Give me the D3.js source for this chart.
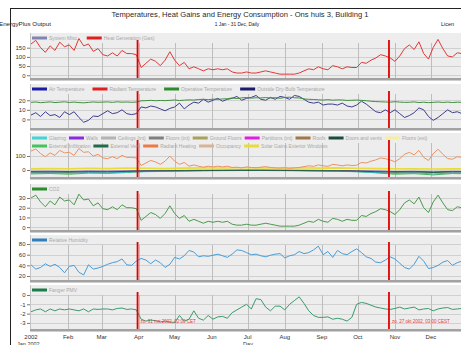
<!DOCTYPE html>
<html>
<head>
<meta charset="utf-8">
<script src="https://cdn.jsdelivr.net/npm/d3@7"></script>
<style>
body{margin:0;background:#fff;overflow:hidden}
svg{display:block;font-family:"Liberation Sans",Arial,sans-serif}
</style>
</head>
<body>
<div id="chart"></div>
<script>
// sample days (day of year 2002), every 4 days, and a coarser grid for the small gains
const days = d3.range(0, 365, 4)
const coarseDays = [0,16,32,48,64,80,96,112,128,144,160,176,192,208,224,240,256,272,288,304,320,336,352,364]
const monthNames = ["2002","Feb","Mar","Apr","May","Jun","Jul","Aug","Sep","Oct","Nov","Dec"]

// panel 1
const heatGas = [170,190,150,125,160,135,180,155,165,135, 200,160,170,130,145,112,105,122,105,135,
  118,118,112,42,65,88,76,52,82,128, 82,52,70,35,46,35,24,35,30,35, 30,35,18,12,12,18,12,12,18,24,
  18,12,6,6,6,6,12,24,35,30, 46,35,30,52,46,35,46,42,42,70, 65,82,94,112,105,94,76,105,145,165,
  140,182,118,88,152,195,145,105,100,122, 118,128]

// panel 2
const operativeT = [17.8,18.2,17.5,17.9,18.3,17.6,18.0,18.4,17.7,18.1, 17.6,17.3,17.8,18.2,17.9,18.1,18.3,17.8,18.4,18.0,
  18.2,17.9,18.1,19.4,19.6,19.9,19.5,19.8,19.6,19.9, 20.3,19.7,20.1,20.4,20.2,20.8,21.0,20.6,21.2,20.9,
  21.4,21.6,22.4,21.8,22.5,22.9,22.2,22.6,22.4,22.8, 22.3,22.7,22.1,22.9,23.2,22.6,22.4,21.4,21.0,20.8,
  20.5,20.2,20.6,20.1,20.4,20.3,19.8,20.0,20.2,19.9, 19.5,19.0,18.6,18.4,18.2,18.0,18.5,18.1,17.8,17.9,
  18.3,17.6,18.0,17.5,17.8,18.2,17.7,18.1,17.6,18.0, 17.8,18.1]
const outsideT = [4.5,7,3,8,4,5,2,8,5,8, 2,-3,-1,3.5,3,6,9,6,7,10, 6,5,6,13,12,14,13,11,9,11.5,
  13,17,11,15,18,17,21,18,20,22, 19,21,22,24,20,22,23,25,21,20, 23,21,24,23,21,25,24,21,18,17,
  18,15,16,16,15,17,14,13,15,19, 16,12,8,7,10,7,10,6,2,4, 7,12,10,3,-1,2,6,10,7,8, 6,5]

// panel 3
const radHeating = [135,150,117,95,122,104,140,122,126,104, 153,126,130,99,112,86,81,95,81,104,
  90,90,86,32,50,68,58,40,63,99, 63,40,54,27,36,27,20,27,22,27, 22,27,18,20,15,22,18,16,20,24,
  18,15,14,16,12,15,18,24,30,26, 36,30,26,40,36,30,36,32,34,54, 50,63,72,86,81,72,58,81,112,126,
  108,140,90,68,117,148,112,81,77,95, 90,99]
const solarGains = [8,10,9,12,10,14,12,10,13,15,14,16,15,14,16,13,15,12,10,9,8,7,8,8]
const glazing = [-22,-20,-24,-18,-20,-15,-12,-10,-8,-6,-5,-4,-4,-5,-6,-8,-10,-12,-18,-25,-20,-28,-22,-24]
const extInfiltration = [-28,-25,-30,-22,-24,-18,-10,-8,-6,-4,-3,-2,-2,-3,-4,-6,-8,-12,-20,-30,-26,-35,-25,-28]
const doorsVents = [-15,-14,-16,-12,-13,-10,-7,-6,-5,-4,-3,-3,-3,-3,-4,-5,-6,-8,-12,-16,-14,-18,-14,-15]
const walls = [-10,-9,-11,-8,-9,-7,-5,-4,-3,-2,-2,-1,-1,-2,-2,-3,-4,-6,-8,-11,-10,-13,-10,-11]

// panel 4
const co2 = [30,33,26,21,27,23,31,27,28,23, 34,28,29,22,25,19,18,21,18,23, 20,20,19,7,11,15,13,9,14,22,
  14,9,12,6,8,6,4,6,5,6, 5,6,3,2,2,3,2,2,3,4, 3,2,1,1,1,1,2,4,6,5, 8,6,5,9,8,6,8,7,7,12,
  11,14,16,19,18,16,13,18,25,28, 24,31,20,15,26,33,25,18,17,21, 20,22]

// panel 5
const relHum = [41,33,36,43,38,42,36,26,38,40, 27,22,41,33,35,38,42,45,47,52, 41,40,48,53,50,43,50,45,36,42,
  55,52,58,68,65,56,58,57,59,61, 58,55,61,69,68,64,60,61,58,56, 59,61,62,54,58,60,66,62,64,69,
  76,60,66,55,68,62,60,66,71,64, 56,53,46,45,50,56,52,44,36,33, 42,57,48,34,36,40,46,49,40,45, 48,44]

// panel 6
const pmv = [-1.8,-1.6,-1.5,-1.8,-1.5,-1.7,-1.5,-1.6,-1.5,-1.6, -1.7,-1.5,-1.8,-1.5,-1.55,-1.5,-1.5,-1.6,-1.45,-1.4,
  -1.55,-1.5,-1.6,-2.6,-2.8,-2.7,-2.75,-2.9,-2.8,-2.9, -2.95,-2.2,-2.8,-2.6,-1.7,-2.5,-2.7,-2.2,-2.6,-2.35,
  -2.3,-2.5,-1.9,-1.6,-1.3,-1.0,-1.5,-0.4,-0.5,-1.3, -1.7,-1.2,-1.2,-1.6,-1.0,-0.6,-0.2,-0.9,-1.7,-2.2,
  -2.4,-2.4,-2.35,-2.6,-2.5,-2.6,-2.8,-2.4,-1.0,-0.8, -0.9,-1.1,-1.3,-1.4,-1.5,-1.55,-1.45,-1.3,-1.5,-1.4,
  -1.3,-1.6,-1.5,-1.45,-1.7,-1.5,-1.4,-1.35,-1.55,-1.5, -1.45,-1.5]

const dstDays = [89, 299]
const dstLabels = ["zo. 31 mrt 2002, 02:00 CET", "zo. 27 okt 2002, 03:00 CEST"]

// panels: layout + what goes in them
const panels = [
  {top:33, bottom:78, domain:[-15,230], ticks:[0,50,100,150], gap:8,
   legend:[[["System Misc.","#8383b3"],["Heat Generation (Gas)","#e02020"]]],
   series:[[days,heatGas,"#e03838",1]]},
  {top:84, bottom:128, domain:[-9,37], ticks:[0,10,20], gap:8,
   legend:[[["Air Temperature","#1c1ca8"],["Radiant Temperature","#e02020"],["Operative Temperature","#2e8b2e"],["Outside Dry-Bulb Temperature","#1c1c6e"]]],
   series:[[days,outsideT,"#3d3d8f",1],[days,operativeT,"#3f8f3f",1]]},
  {top:133, bottom:177, domain:[-50,264], ticks:[0,100], gap:3,
   legend:[[["Glazing","#44d4d4"],["Walls","#8a2be2"],["Ceilings (int)","#b4b4b4"],["Floors (int)","#808080"],["Ground Floors","#a8a25c"],["Partitions (int)","#e020e0"],["Roofs","#a0784a"],["Doors and vents","#1b4d3e"],["Floors (ext)","#f6efa0"]],
           [["External Infiltration","#44c45a"],["External Vent","#226a48"],["Radiant Heating","#ec7a46"],["Occupancy","#d8b496"],["Solar Gains Exterior Windows","#e8dc3c"]]],
   series:[[coarseDays,walls,"#6a3aa8",1],[coarseDays,extInfiltration,"#44b45a",1],[coarseDays,glazing,"#3cb4c8",1],
           [coarseDays,doorsVents,"#2a5a48",1],[coarseDays,solarGains,"#e8dc3c",1.6],[days,radHeating,"#ee915e",1]]},
  {top:184, bottom:230, domain:[-3,44.5], ticks:[0,10,20,30], gap:8,
   legend:[[["CO2","#2e8b2e"]]],
   series:[[days,co2,"#4a9a4a",1]]},
  {top:235, bottom:280, domain:[12.5,97], ticks:[20,40,60,80], gap:8,
   legend:[[["Relative Humidity","#2f7fbf"]]],
   series:[[days,relHum,"#4a9cd4",1]]},
  {top:285, bottom:329, domain:[-3.65,1.07], ticks:[-3,-2,-1,0], gap:8,
   legend:[[["Fanger PMV","#1f7a4a"]]],
   series:[[days,pmv,"#3a9a6a",1]]}
]

const W = 461, H = 345
const left = 30, right = 470
const start = new Date(2002,0,1)
const dayDate = d => d3.timeDay.offset(start, d)
const x = d3.scaleTime().domain([start, new Date(2003,0,1)]).range([31, 468])
const months = d3.timeMonth.range(start, new Date(2003,0,1))

const svg = d3.select("#chart").append("svg").attr("width", W).attr("height", H)

// frame and titles
svg.append("line").attr("x1",10).attr("x2",W).attr("y1",8.5).attr("y2",8.5).attr("stroke","#222")
svg.append("line").attr("x1",10.5).attr("x2",10.5).attr("y1",8).attr("y2",H).attr("stroke","#222")
svg.append("text").attr("x",240).attr("y",17).attr("text-anchor","middle").attr("font-size",7.6).attr("fill","#2a2a2a")
  .text("Temperatures, Heat Gains and Energy Consumption - Ons huis 3, Building 1")
svg.append("text").attr("x",237).attr("y",25.5).attr("text-anchor","middle").attr("font-size",4.8).attr("fill","#222")
  .text("1 Jan - 31 Dec, Daily")
svg.append("text").attr("x",-1).attr("y",26).attr("font-size",6.2).attr("fill","#222").text("EnergyPlus Output")
svg.append("text").attr("x",441).attr("y",26).attr("font-size",5.5).attr("fill","#222").text("Licen")

panels.forEach((p, i) => {
  const g = svg.append("g")
  const y = d3.scaleLinear().domain(p.domain).range([p.bottom, p.top])

  g.append("rect").attr("x", left).attr("y", p.top).attr("width", right-left).attr("height", p.bottom-p.top)
    .attr("fill", "#ededed")

  // grid
  g.selectAll(".hg").data(p.ticks).enter().append("line")
    .attr("x1", left).attr("x2", right).attr("y1", d => Math.round(y(d))+0.5).attr("y2", d => Math.round(y(d))+0.5)
    .attr("stroke", "#d0d0d0")
  g.selectAll(".vg").data(months.slice(1)).enter().append("line")
    .attr("x1", d => Math.round(x(d))+0.5).attr("x2", d => Math.round(x(d))+0.5)
    .attr("y1", p.top+10).attr("y2", p.bottom)
    .attr("stroke", "#bdbdbd")
  g.append("line").attr("x1",left+0.5).attr("x2",left+0.5).attr("y1",p.top).attr("y2",p.bottom).attr("stroke","#c4c4c4")

  // y axis
  const ax = g.append("g").attr("transform", `translate(${left},0)`)
    .call(d3.axisLeft(y).tickValues(p.ticks).tickSize(3).tickPadding(1.5).tickFormat(d => String(d)))
  ax.select(".domain").remove()
  ax.selectAll("line").attr("stroke", "#777")
  ax.selectAll("text").attr("font-size", 6).attr("fill", "#333").attr("font-family", "Liberation Sans, Arial, sans-serif")

  // lines
  const clipId = "clip" + i
  svg.append("clipPath").attr("id", clipId).append("rect")
    .attr("x", left).attr("y", p.top).attr("width", right-left).attr("height", p.bottom-p.top)
  const lg = g.append("g").attr("clip-path", `url(#${clipId})`)
  p.series.forEach(s => {
    const line = d3.line().x((v,k) => x(dayDate(s[0][k]))).y(v => y(v))
    lg.append("path").datum(s[1]).attr("d", line).attr("fill","none")
      .attr("stroke", s[2]).attr("stroke-width", s[3]).attr("stroke-linejoin","round")
  })

  // daylight saving markers
  g.selectAll(".dst").data(dstDays).enter().append("line")
    .attr("x1", d => x(dayDate(d))).attr("x2", d => x(dayDate(d)))
    .attr("y1", p.top+7).attr("y2", p.bottom)
    .attr("stroke", "#e00000").attr("stroke-width", 1.8)

  // bottom shadow bar
  g.append("rect").attr("x", left).attr("y", p.bottom).attr("width", right-left).attr("height", 2).attr("fill", "#a2a2a2")
  g.append("rect").attr("x", left).attr("y", p.bottom+2).attr("width", right-left).attr("height", 1).attr("fill", "#cdcdcd")

  // legend
  p.legend.forEach((row, r) => {
    let cx = 32
    const ly = p.top + 5 + r*8
    row.forEach(item => {
      g.append("rect").attr("x", cx).attr("y", ly-1.5).attr("width", 15).attr("height", 3).attr("fill", item[1])
      const t = g.append("text").attr("x", cx+17).attr("y", ly+1.8).attr("font-size", 5).attr("fill", "#a8a8a8").text(item[0])
      cx += 17 + t.node().getComputedTextLength() + p.gap
    })
  })
})

// DST annotations in the last panel
const last = panels[panels.length-1]
svg.selectAll(".dstlab").data(dstDays).enter().append("text")
  .attr("x", d => x(dayDate(d)) + 3).attr("y", last.bottom - 6)
  .attr("font-size", 4.5).attr("fill", "#e04040")
  .text((d,k) => dstLabels[k])

// x axis labels
svg.selectAll(".xl").data(months).enter().append("text")
  .attr("x", d => x(d)).attr("y", 339).attr("text-anchor","middle")
  .attr("font-size", 6).attr("fill", "#333")
  .text((d,k) => monthNames[k])
svg.append("text").attr("x", 17).attr("y", 345.5).attr("font-size", 5.5).attr("fill", "#333").text("Jan 2002")
svg.append("text").attr("x", 248).attr("y", 345.5).attr("text-anchor","middle").attr("font-size", 5.5).attr("fill", "#333").text("Day")
</script>
</body>
</html>
